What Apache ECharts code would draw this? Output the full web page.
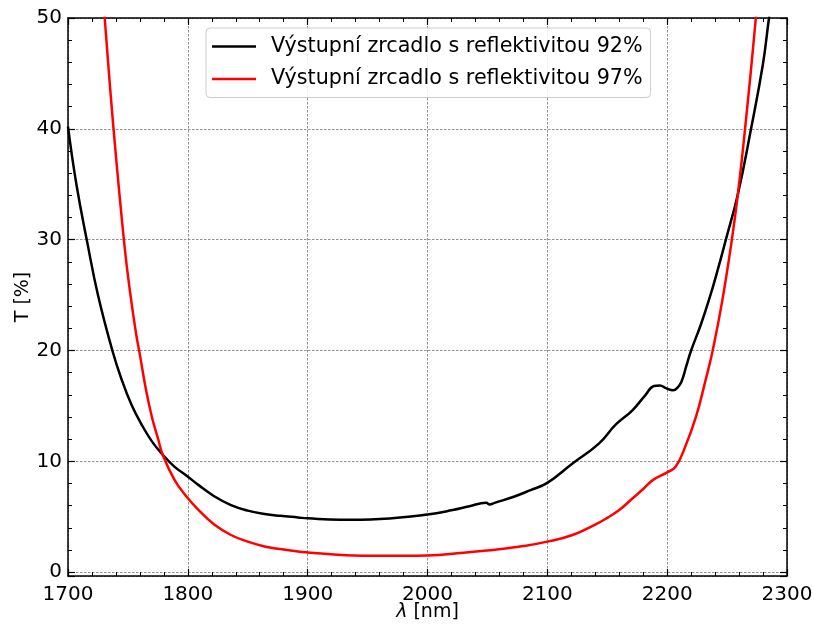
<!DOCTYPE html>
<html>
<head>
<meta charset="utf-8">
<script src="https://cdn.jsdelivr.net/npm/echarts@6/dist/echarts.min.js"></script>
<style>
html,body{margin:0;padding:0;background:#fff;}
#chart{width:814px;height:625px;}
</style>
</head>
<body>
<div id="chart"></div>
<script>
// ---- data ----
const seriesNames = ['Výstupní zrcadlo s reflektivitou 92%', 'Výstupní zrcadlo s reflektivitou 97%'];

const lambda92 = [1700, 1707, 1716, 1725, 1737, 1745, 1753, 1761, 1770, 1779, 1789, 1799, 1809, 1822, 1836, 1850, 1864, 1877, 1892, 1900, 1927, 1960, 2000, 2021, 2035, 2049, 2052, 2056, 2072, 2086, 2100, 2121, 2143, 2157, 2171, 2182, 2189, 2194, 2199, 2205, 2209, 2212, 2216, 2220, 2228, 2235, 2242, 2249, 2259, 2270, 2280, 2285, 2288];
const T92 = [40.2, 35.0, 29.8, 25.0, 20.0, 17.3, 15.1, 13.4, 11.8, 10.6, 9.5, 8.7, 7.85, 6.85, 6.05, 5.55, 5.25, 5.08, 4.93, 4.85, 4.72, 4.8, 5.2, 5.6, 5.95, 6.25, 6.1, 6.25, 6.8, 7.4, 8.05, 9.8, 11.6, 13.3, 14.6, 16.0, 16.8, 16.85, 16.6, 16.4, 16.7, 17.2, 18.6, 20.0, 22.3, 24.6, 27.2, 30.0, 34.1, 40.0, 45.9, 50.0, 52.0];

const lambda97 = [1728, 1731, 1738, 1747, 1752, 1757, 1760, 1765, 1770, 1775, 1779, 1789, 1799, 1809, 1822, 1836, 1850, 1864, 1877, 1892, 1900, 1932, 1960, 2000, 2030, 2045, 2058, 2080, 2100, 2121, 2141, 2150, 2160, 2170, 2180, 2188, 2200, 2207, 2215, 2224, 2232, 2238, 2246, 2254, 2259, 2265, 2274, 2276];
const T97 = [54.0, 49.5, 40.0, 29.6, 25.1, 21.4, 19.6, 16.5, 14.0, 12.1, 10.6, 8.3, 6.8, 5.6, 4.3, 3.35, 2.75, 2.32, 2.08, 1.86, 1.78, 1.53, 1.47, 1.5, 1.75, 1.9, 2.05, 2.35, 2.75, 3.35, 4.35, 4.9, 5.6, 6.55, 7.5, 8.3, 9.0, 9.5, 11.3, 14.0, 17.3, 20.0, 24.5, 30.0, 34.1, 40.0, 50.0, 53.0];

const xTicks = [1700, 1800, 1900, 2000, 2100, 2200, 2300];
const yTicks = [0, 10, 20, 30, 40, 50];

const xMin = 1700, xMax = 2300, yMin = -0.35, yMax = 50;

// ---- build ----
function pairs(xs, ys) { return xs.map((x, i) => [x, ys[i]]); }
const FONT = 'DejaVu Sans';

const tickCommon = {
  axisLine: { show: true, onZero: false, lineStyle: { color: '#000', width: 1.5 } },
  axisTick: { show: true, inside: true, length: 7, lineStyle: { color: '#000', width: 1.2 } },
  minorTick: { show: true, splitNumber: 5, length: 4, lineStyle: { color: '#000', width: 1 } }
};
const gridLine = { show: true, lineStyle: { color: '#777', width: 0.8, type: [2.5, 1.5] } };
const lineIcon = 'path://M0,0 L44,0 L44,2.6 L0,2.6 Z';

const chart = echarts.init(document.getElementById('chart'), null, { renderer: 'canvas' });
chart.setOption({
  animation: false,
  backgroundColor: '#fff',
  textStyle: { fontFamily: FONT },
  grid: { left: 68, right: 27, top: 18, bottom: 49, containLabel: false, outerBoundsMode: 'none' },
  legend: {
    left: 206, top: 28,
    orient: 'vertical',
    data: [
      { name: seriesNames[0], icon: lineIcon, itemStyle: { color: '#000' } },
      { name: seriesNames[1], icon: lineIcon, itemStyle: { color: '#ff0000' } }
    ],
    itemWidth: 44, itemHeight: 20, itemGap: 11.5,
    padding: [8, 8, 8, 6],
    borderColor: '#ccc', borderWidth: 1, borderRadius: 4,
    backgroundColor: 'rgba(255,255,255,0.85)',
    textStyle: { fontFamily: FONT, fontSize: 20.7, color: '#000', padding: [0, 0, 0, 10] }
  },
  xAxis: [
    Object.assign({
      type: 'value', position: 'bottom', min: xMin, max: xMax, interval: 100,
      name: '{i|λ} [nm]', nameLocation: 'middle', nameGap: 27, nameMoveOverlap: false,
      nameTextStyle: { fontFamily: FONT, fontSize: 19, color: '#000', rich: { i: { fontStyle: 'italic', fontFamily: FONT, fontSize: 19 } } },
      axisLabel: { show: true, fontFamily: FONT, fontSize: 20, color: '#000', margin: 9,
        formatter: v => xTicks.includes(v) ? String(v) : '' },
      splitLine: gridLine
    }, tickCommon),
    Object.assign({
      type: 'value', position: 'top', min: xMin, max: xMax, interval: 100,
      axisLabel: { show: false }, splitLine: { show: false }
    }, tickCommon)
  ],
  yAxis: [
    Object.assign({
      type: 'value', position: 'left', min: yMin, max: yMax, splitNumber: 5,
      name: 'T [%]', nameLocation: 'middle', nameGap: 35, nameMoveOverlap: false,
      nameTextStyle: { fontFamily: FONT, fontSize: 19, color: '#000' },
      axisLabel: { show: true, fontFamily: FONT, fontSize: 20, color: '#000', margin: 6,
        showMinLabel: true, showMaxLabel: true,
        formatter: v => yTicks.includes(Math.round(v * 1000) / 1000) ? String(Math.round(v)) : '' },
      splitLine: gridLine
    }, tickCommon),
    Object.assign({
      type: 'value', position: 'right', min: yMin, max: yMax, splitNumber: 5,
      axisLabel: { show: false }, splitLine: { show: false }
    }, tickCommon)
  ],
  series: [
    {
      name: seriesNames[0], type: 'line', xAxisIndex: 0, yAxisIndex: 0,
      data: pairs(lambda92, T92), showSymbol: false, symbol: 'none', smooth: 0.45, clip: true,
      lineStyle: { color: '#000', width: 2.5 }, itemStyle: { color: '#000' }
    },
    {
      name: seriesNames[1], type: 'line', xAxisIndex: 0, yAxisIndex: 0,
      data: pairs(lambda97, T97), showSymbol: false, symbol: 'none', smooth: 0.45, clip: true,
      lineStyle: { color: '#ff0000', width: 2.5 }, itemStyle: { color: '#ff0000' }
    }
  ]
});
</script>
</body>
</html>
